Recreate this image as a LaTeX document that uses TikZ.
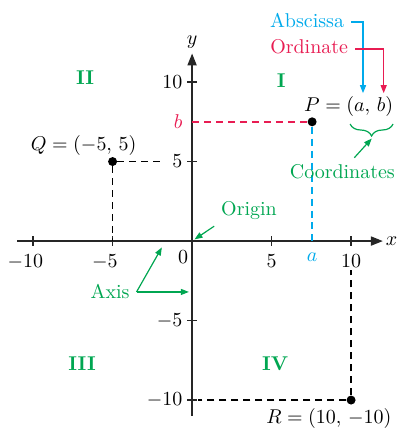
\documentclass[tikz,border=0pt]{standalone}
\usepackage{xcolor}
\usetikzlibrary{arrows.meta,positioning,decorations.pathreplacing}

\definecolor{quadgreen}{RGB}{0,166,81}
\definecolor{absblue}{RGB}{0,170,235}
\definecolor{ordred}{RGB}{232,28,82}

\begin{document}
\begin{tikzpicture}[
    x=0.28cm, y=0.28cm,
    font=\fontsize{10}{12}\selectfont,
    axisline/.style={line width=0.9pt, draw=black!85, -{Triangle[length=6pt,width=4.5pt]}},
    tickmark/.style={line width=0.6pt, draw=black!85},
    guide/.style={line width=0.6pt, dash pattern=on 3.5pt off 2.5pt},
    quad/.style={text=quadgreen, font=\fontsize{10}{12}\selectfont\bfseries},
    callout/.style={line width=0.6pt, -{Triangle[length=4pt,width=3pt]}},
    dot/.style={circle, fill=black, inner sep=0pt, minimum size=4.5pt},
    ylab/.style={anchor=east, inner sep=1.5pt},
    xlab/.style={anchor=base}
]
    \useasboundingbox (-12.08,-11.82) rectangle (12.83,15.16);

    % axes
    \draw[axisline] (-11,0) -- (12,0) node[right, inner sep=1pt] (xname) {$x$};
    \draw[axisline] (0,-11) -- (0,11.8) node[above, inner sep=2pt] (yname) {$y$};
    \foreach \t in {-10,-5,5,10} {
        \draw[tickmark] (\t,-0.3) -- (\t,0.3);
        \draw[tickmark] (-0.3,\t) -- (0.3,\t);
    }
    \coordinate (O) at (0,0);

    % tick labels
    \node[xlab] (xm10) at (-10,-1.64) {\llap{$-$}10};
    \node[xlab] (xm5) at (-5,-1.64) {\llap{$-$}5};
    \node[xlab] (x5) at (5,-1.64) {5};
    \node[xlab] (x10) at (10,-1.64) {10};
    \node (zero) at (-0.57,-1.0) {0};
    \node[ylab] (y10) at (-0.4,10) {10};
    \node[ylab] (y5) at (-0.4,5) {5};
    \node[ylab] (ym5) at (-0.4,-5) {$-5$};
    \node[ylab] (ym10) at (-0.4,-10) {$-10$};

    % quadrants
    \node[quad] (q1) at (5.6,10.1) {I};
    \node[quad] (q2) at (-6.73,10.25) {II};
    \node[quad] (q3) at (-6.92,-7.74) {III};
    \node[quad] (q4) at (5.22,-7.74) {IV};

    % points
    \node[dot] (P) at (7.55,7.5) {};
    \node[dot] (Q) at (-5,5) {};
    \node[dot] (R) at (10,-10) {};
    \coordinate (bpt) at (0,7.5);
    \coordinate (apt) at (7.55,0);

    \draw[guide, draw=ordred, line width=0.8pt] (bpt) -- (P);
    \draw[guide, draw=absblue, line width=0.8pt] (P) -- (apt);
    \draw[guide] (Q) -- (-1.8,5);
    \draw[guide] (Q) -- (-5,0);
    \draw[guide] (R) -- (10,-1.8);
    \draw[guide] (R) -- (0.35,-10);

    \node[text=ordred, ylab] (blab) at (-0.4,7.5) {$b$};
    \node[text=absblue] (alab) at (7.55,-1.0) {$a$};

    \node (Plab) at (9.85,8.43) {$P = (a,\, b)$};
    \node (Qlab) at (-6.82,6.04) {$Q = (-5,\, 5)$};
    \node (Rlab) at (8.6,-11.13) {$R = (10,\, -10)$};

    % abscissa / ordinate callouts
    \node[text=absblue] (absc) at (7.23,13.9) {Abscissa};
    \node[text=ordred] (ordn) at (7.36,12.2) {Ordinate};
    \coordinate (atip) at (10.75,9.3);
    \coordinate (btip) at (12.05,9.3);
    \draw[callout, absblue] ([yshift=-1pt]absc.east) -| (atip);
    \draw[callout, ordred] ([yshift=-1pt]ordn.east) -| (btip);

    % coordinates brace
    \coordinate (brl) at (9.94,7.36);
    \coordinate (brr) at (12.64,7.36);
    \coordinate (brtip) at (11.3,6.45);
    \draw[quadgreen, line width=0.6pt, decorate, decoration={brace, mirror, amplitude=6pt}] (brl) -- (brr);
    \node[text=quadgreen] (coord) at (9.45,4.34) {Coordinates};
    \draw[callout, quadgreen] ([xshift=6pt]coord.north) -- (brtip);

    % origin and axis callouts
    \node[text=quadgreen] (orig) at (3.58,1.95) {Origin};
    \draw[callout, quadgreen, shorten >=1.5pt] (orig.south west) -- (O);
    \node[text=quadgreen] (axisl) at (-5.16,-3.2) {Axis};
    \coordinate (xpt) at (-1.9,-0.4);
    \coordinate (ypt) at (-0.2,-3.2);
    \draw[callout, quadgreen] (axisl.east) -- (xpt);
    \draw[callout, quadgreen] (axisl.east) -- (ypt);

\end{tikzpicture}
\end{document}
